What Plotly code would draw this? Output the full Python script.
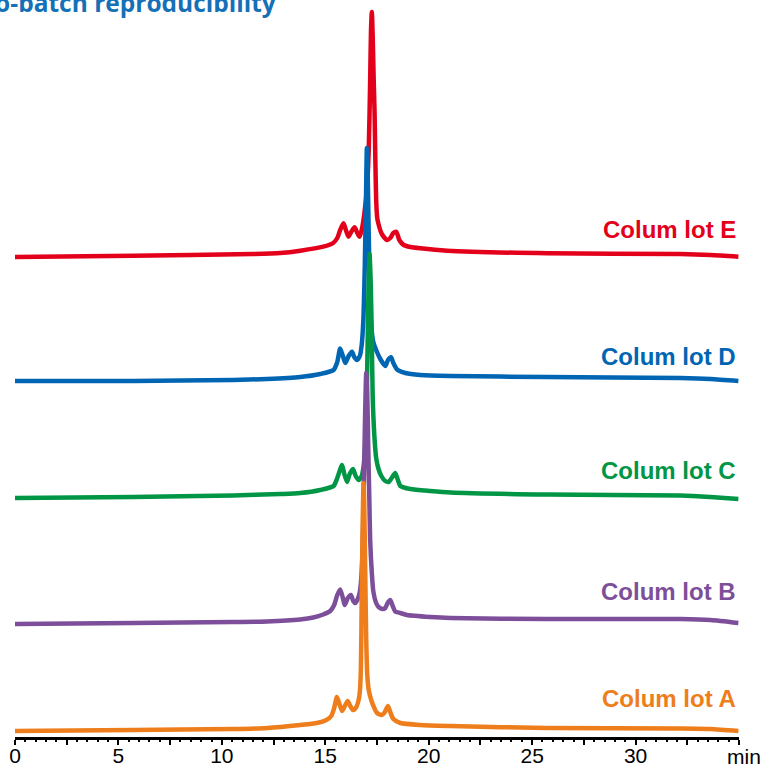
import plotly.graph_objects as go

# ---- data (time in min, signal in arbitrary units incl. stacking offset) ----
t_A = [0.00, 5.71, 10.55, 12.19, 13.79, 14.60, 15.05, 15.29, 15.43, 15.56, 15.67, 15.81, 15.92, 16.08,
       16.21, 16.34, 16.47, 16.59, 16.67, 16.72, 16.76, 16.81, 16.85, 16.88, 16.93, 16.98, 17.03, 17.10,
       17.22, 17.37, 17.50, 17.71, 17.85, 18.03, 18.14, 18.29, 18.63, 19.59, 21.05, 25.72, 32.17, 33.62, 34.97]
v_A = [7, 8, 9, 10, 13, 15, 18, 22, 30, 41, 35, 27, 31, 37,
       32, 28, 30, 36, 46, 68, 138, 218, 255, 238, 168, 98, 63, 48,
       38, 30, 25, 23, 25, 32, 26, 19, 15, 13, 12, 10, 9.5, 9, 7]

t_B = [0.00, 5.71, 10.55, 12.19, 13.79, 14.42, 14.90, 15.24, 15.43, 15.58, 15.72, 15.85, 15.94, 16.09,
       16.24, 16.35, 16.45, 16.57, 16.67, 16.74, 16.81, 16.86, 16.92, 16.98, 17.03, 17.08, 17.13, 17.17,
       17.25, 17.32, 17.46, 17.58, 17.76, 17.90, 18.04, 18.14, 18.26, 18.38, 18.63, 18.95, 20.08, 21.05,
       25.72, 32.17, 33.62, 34.97]
v_B = [114, 115, 116, 116.5, 118.5, 120.5, 123.5, 127, 133, 143, 148.5, 140, 133, 140,
       143, 137, 135, 139, 146, 160, 193, 248, 318, 365, 343, 288, 238, 198,
       165, 147, 135, 131, 129, 130, 136, 138, 132, 126.5, 125, 123, 121, 120,
       119, 119, 118, 115]

t_C = [0.00, 5.71, 10.55, 12.82, 13.79, 14.76, 15.40, 15.58, 15.81, 15.92, 16.05, 16.18, 16.34, 16.47,
       16.61, 16.74, 16.84, 16.93, 17.01, 17.08, 17.14, 17.20, 17.25, 17.29, 17.37, 17.46, 17.56, 17.71,
       17.90, 18.06, 18.21, 18.38, 18.51, 18.63, 19.11, 20.08, 21.05, 25.72, 32.17, 33.62, 34.97]
v_C = [240, 241, 242.5, 244, 245, 248, 252, 260, 273, 264, 256, 264, 269, 262,
       258, 261, 270, 293, 348, 438, 484, 453, 398, 343, 303, 280, 270, 262,
       257, 256, 260, 265, 258, 252, 249, 247, 245.5, 243.5, 242.5, 241, 239]

t_D = [0.00, 5.71, 10.55, 12.19, 13.79, 14.76, 15.40, 15.58, 15.72, 15.85, 15.97, 16.13, 16.29, 16.40,
       16.53, 16.67, 16.76, 16.84, 16.91, 16.97, 17.01, 17.06, 17.11, 17.16, 17.22, 17.32, 17.50, 17.66,
       17.90, 18.03, 18.18, 18.29, 18.47, 18.87, 19.59, 21.05, 25.72, 32.17, 33.62, 34.97]
v_D = [357, 357, 358, 359, 361, 364, 368, 376, 389.5, 382, 375, 382, 386.3, 381,
       378, 382, 393, 418, 473, 543, 590, 553, 493, 443, 413, 396, 386, 379,
       372, 378, 380.7, 375, 368.5, 365, 363, 362, 361, 360, 359, 357]

t_E = [0.00, 5.71, 11.51, 12.82, 13.79, 14.90, 15.38, 15.58, 15.72, 15.88, 16.01, 16.12, 16.28, 16.42,
       16.55, 16.66, 16.76, 16.88, 17.01, 17.10, 17.17, 17.21, 17.25, 17.29, 17.34, 17.38, 17.42, 17.46,
       17.51, 17.61, 17.71, 17.83, 17.98, 18.14, 18.29, 18.43, 18.58, 18.79, 19.11, 19.59, 20.89, 25.72,
       32.17, 33.62, 34.97]
v_E = [481, 482.3, 484, 485, 487.3, 491.3, 495, 500, 508, 514.7, 507, 501.3, 507, 510.7,
       505, 501.3, 508, 523, 548, 588, 658, 708, 726, 703, 658, 628, 578, 538,
       520, 511, 505, 501, 498, 500, 505, 506.3, 498, 493, 491, 489.7, 487.3, 484.7,
       484, 483, 481.3]

lots = ["Colum lot E", "Colum lot D", "Colum lot C", "Colum lot B", "Colum lot A"]
series_t = [t_E, t_D, t_C, t_B, t_A]
series_v = [v_E, v_D, v_C, v_B, v_A]
colors = ["#e3001b", "#0066b3", "#009645", "#7d4f9a", "#ee7d1c"]
label_y = [509, 382, 268, 147, 40]

major_ticks = [0, 2.5, 5, 7.5, 10, 12.5, 15, 17.5, 20, 22.5, 25, 27.5, 30, 32.5, 35]
major_text = ["0", "", "5", "", "10", "", "15", "", "20", "", "25", "", "30", "", ""]

title_text = "Batch-to-batch reproducibility"

fig = go.Figure()
for name, tt, vv, c in zip(lots, series_t, series_v, colors):
    fig.add_trace(go.Scatter(x=tt, y=vv, mode="lines", name=name,
                             line=dict(color=c, width=4.5, shape="spline", smoothing=0.6)))

for name, c, ly in zip(lots, colors, label_y):
    fig.add_annotation(x=34.93, y=ly, xref="x", yref="y", text=f"<b>{name}</b>",
                       showarrow=False, xanchor="right", yanchor="middle",
                       font=dict(family="Liberation Sans, Arial, sans-serif", size=24, color=c))

fig.add_annotation(x=(745 - 15) / 724.5, y=-0.027, xref="paper", yref="paper", text="min",
                   showarrow=False, xanchor="center", yanchor="middle",
                   font=dict(family="Liberation Sans, Arial, sans-serif", size=21, color="black"))

fig.add_annotation(x=(278 - 15) / 724.5, y=0.971, xref="paper", yref="paper",
                   text=f"<b>{title_text}</b>", showarrow=False, xanchor="right", yanchor="bottom",
                   font=dict(family="Open Sans, sans-serif", size=24.5, color="#1570b8"))

fig.update_layout(
    width=767, height=767,
    margin=dict(l=15, r=28, t=0, b=30),
    paper_bgcolor="white", plot_bgcolor="white",
    showlegend=False,
    xaxis=dict(range=[0, 35], showgrid=False, zeroline=False, showline=True, linecolor="black",
               linewidth=3, ticks="outside", ticklen=5, tickwidth=1.5, tickcolor="black",
               tickvals=major_ticks, ticktext=major_text, automargin=False, ticklabelstandoff=-7,
               tickfont=dict(family="Liberation Sans, Arial, sans-serif", size=21, color="black"),
               minor=dict(dtick=0.5, ticks="outside", ticklen=2, tickwidth=1.5, tickcolor="black")),
    yaxis=dict(range=[1, 738], visible=False, showgrid=False, zeroline=False, automargin=False),
)

fig.write_html("out.html", config={"displayModeBar": False},
               post_script="document.body.style.margin='0';document.body.style.overflow='hidden';")
